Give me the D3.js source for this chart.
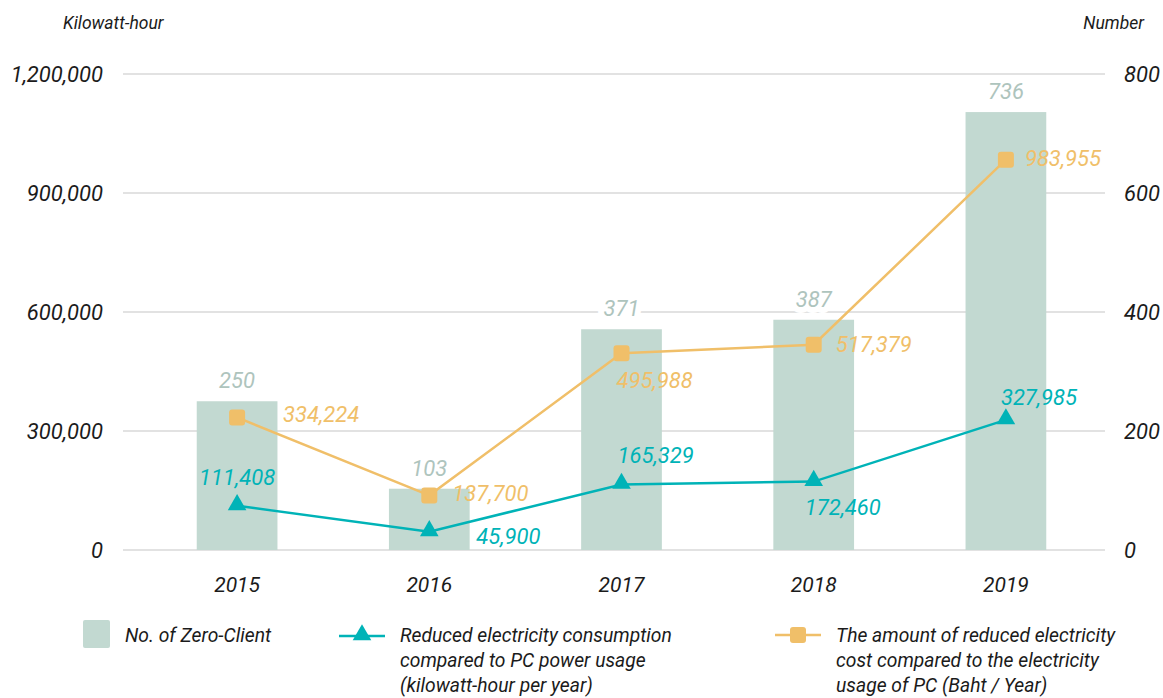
<!DOCTYPE html>
<html>
<head>
<meta charset="utf-8">
<script src="https://cdn.jsdelivr.net/npm/d3@7"></script>
<style>
  html, body { margin: 0; padding: 0; background: #ffffff; }
  svg { display: block; font-family: Roboto, "Noto Sans", sans-serif; font-style: italic; }
</style>
</head>
<body>
<svg id="chart" width="1163" height="698"></svg>
<script>
// ---- data ----
const years = ["2015", "2016", "2017", "2018", "2019"];
const zeroClients = [250, 103, 371, 387, 736];                       // right axis (Number)
const reducedKwh = [111408, 45900, 165329, 172460, 327985];           // left axis (Kilowatt-hour)
const reducedCost = [334224, 137700, 495988, 517379, 983955];         // left axis (Baht / Year)
const leftTicks = [0, 300000, 600000, 900000, 1200000];
const rightTicks = [0, 200, 400, 600, 800];

// ---- label placement (offsets from each marker: dx, dy, anchor) ----
const kwhLabelPos = [
  { dx: 0, dy: -21, anchor: "middle" },
  { dx: 47, dy: 12, anchor: "start" },
  { dx: -4, dy: -21, anchor: "start" },
  { dx: -9, dy: 33, anchor: "start" },
  { dx: -5, dy: -15, anchor: "start" }
];
const costLabelPos = [
  { dx: 46, dy: 5, anchor: "start" },
  { dx: 23, dy: 6, anchor: "start" },
  { dx: -5, dy: 35, anchor: "start" },
  { dx: 22, dy: 7, anchor: "start" },
  { dx: 19, dy: 6, anchor: "start" }
];

// ---- colours ----
const C = {
  bar: "#c2d9d1",
  barLabel: "#aec4bd",
  teal: "#00b3b7",
  orange: "#f0bf69",
  grid: "#c6c6c6",
  text: "#1b1b1b"
};

const svg = d3.select("#chart");

const plotLeft = 123, plotRight = 1105;
const x = d3.scaleBand().domain(years).range([141, 1102]).paddingInner(0.58).paddingOuter(0.29);
const yL = d3.scaleLinear().domain([0, 1200000]).range([550, 74]);
const yR = d3.scaleLinear().domain([0, 800]).range([550, 74]);
const cx = d => x(d) + x.bandwidth() / 2;
const fmt = d3.format(",");

// gridlines
svg.append("g").selectAll("line").data(leftTicks).join("line")
  .attr("x1", plotLeft).attr("x2", plotRight)
  .attr("y1", d => yL(d)).attr("y2", d => yL(d))
  .attr("stroke", C.grid).attr("stroke-width", 1.2);

// left axis
const axL = svg.append("g").attr("transform", `translate(${plotLeft},0)`)
  .call(d3.axisLeft(yL).tickValues(leftTicks).tickFormat(fmt).tickSize(0).tickPadding(20));
axL.select(".domain").remove();
axL.selectAll("text").attr("font-size", 22).attr("fill", C.text)
  .attr("font-family", "Roboto, sans-serif").attr("font-style", "italic");

// right axis
const axR = svg.append("g").attr("transform", `translate(${plotRight},0)`)
  .call(d3.axisRight(yR).tickValues(rightTicks).tickFormat(fmt).tickSize(0).tickPadding(19));
axR.select(".domain").remove();
axR.selectAll("text").attr("font-size", 22).attr("fill", C.text)
  .attr("font-family", "Roboto, sans-serif").attr("font-style", "italic");

// axis titles
svg.append("text").attr("x", 63).attr("y", 29).attr("font-size", 17.5).attr("fill", C.text)
  .text("Kilowatt-hour");
svg.append("text").attr("x", 1144).attr("y", 29).attr("text-anchor", "end").attr("font-size", 17.5).attr("fill", C.text)
  .text("Number");

// x axis labels
const axB = svg.append("g").attr("transform", "translate(0,550)")
  .call(d3.axisBottom(x).tickSize(0).tickPadding(27));
axB.select(".domain").remove();
axB.selectAll("text").attr("font-size", 21).attr("fill", C.text)
  .attr("font-family", "Roboto, sans-serif").attr("font-style", "italic");

// bars (Number of Zero-Client)
const barData = years.map((y, i) => ({ year: y, v: zeroClients[i] }));
svg.append("g").selectAll("rect").data(barData).join("rect")
  .attr("x", d => x(d.year)).attr("width", x.bandwidth())
  .attr("y", d => yR(d.v)).attr("height", d => yR(0) - yR(d.v))
  .attr("fill", C.bar);

svg.append("g").selectAll("text").data(barData).join("text")
  .attr("x", d => cx(d.year)).attr("y", d => yR(d.v) - 13)
  .attr("text-anchor", "middle").attr("font-size", 22).attr("fill", C.barLabel)
  .attr("stroke", "#ffffff").attr("stroke-width", 12).attr("paint-order", "stroke")
  .attr("stroke-linejoin", "round")
  .text(d => fmt(d.v));

// lines
const line = d3.line().x(d => cx(d.year)).y(d => yL(d.v));
const kwhData = years.map((y, i) => ({ year: y, v: reducedKwh[i] }));
const costData = years.map((y, i) => ({ year: y, v: reducedCost[i] }));

svg.append("path").datum(costData).attr("d", line)
  .attr("fill", "none").attr("stroke", C.orange).attr("stroke-width", 2.5);
svg.append("path").datum(kwhData).attr("d", line)
  .attr("fill", "none").attr("stroke", C.teal).attr("stroke-width", 2.5);

// markers
const tri = d3.symbol().type(d3.symbolTriangle).size(150);
svg.append("g").selectAll("path").data(kwhData).join("path")
  .attr("d", tri)
  .attr("transform", d => `translate(${cx(d.year)},${yL(d.v) - 1})`)
  .attr("fill", C.teal);

svg.append("g").selectAll("rect").data(costData).join("rect")
  .attr("x", d => cx(d.year) - 8).attr("y", d => yL(d.v) - 8)
  .attr("width", 16).attr("height", 16).attr("rx", 3)
  .attr("fill", C.orange);

// value labels
svg.append("g").selectAll("text").data(kwhData).join("text")
  .attr("x", (d, i) => cx(d.year) + kwhLabelPos[i].dx)
  .attr("y", (d, i) => yL(d.v) + kwhLabelPos[i].dy)
  .attr("text-anchor", (d, i) => kwhLabelPos[i].anchor)
  .attr("font-size", 22).attr("fill", C.teal)
  .text(d => fmt(d.v));

svg.append("g").selectAll("text").data(costData).join("text")
  .attr("x", (d, i) => cx(d.year) + costLabelPos[i].dx)
  .attr("y", (d, i) => yL(d.v) + costLabelPos[i].dy)
  .attr("text-anchor", (d, i) => costLabelPos[i].anchor)
  .attr("font-size", 22).attr("fill", C.orange)
  .text(d => fmt(d.v));

// legend
const lg = svg.append("g").attr("font-size", 19.3).attr("fill", C.text);

lg.append("rect").attr("x", 83).attr("y", 620).attr("width", 27).attr("height", 28).attr("rx", 2).attr("fill", C.bar);
lg.append("text").attr("x", 125).attr("y", 642).text("No. of Zero-Client");

lg.append("line").attr("x1", 339).attr("x2", 385).attr("y1", 636).attr("y2", 636)
  .attr("stroke", C.teal).attr("stroke-width", 2.5);
lg.append("path").attr("d", tri).attr("transform", "translate(362,635)").attr("fill", C.teal);
const t2 = lg.append("text").attr("x", 400).attr("y", 642);
["Reduced electricity consumption", "compared to PC power usage", "(kilowatt-hour per year)"]
  .forEach((s, i) => t2.append("tspan").attr("x", 400).attr("dy", i === 0 ? 0 : 25).text(s));

lg.append("line").attr("x1", 775).attr("x2", 821).attr("y1", 635).attr("y2", 635)
  .attr("stroke", C.orange).attr("stroke-width", 2.5);
lg.append("rect").attr("x", 790).attr("y", 627).attr("width", 16).attr("height", 16).attr("rx", 3).attr("fill", C.orange);
const t3 = lg.append("text").attr("x", 836).attr("y", 642);
["The amount of reduced electricity", "cost compared to the electricity", "usage of PC (Baht / Year)"]
  .forEach((s, i) => t3.append("tspan").attr("x", 836).attr("dy", i === 0 ? 0 : 25).text(s));
</script>
</body>
</html>
